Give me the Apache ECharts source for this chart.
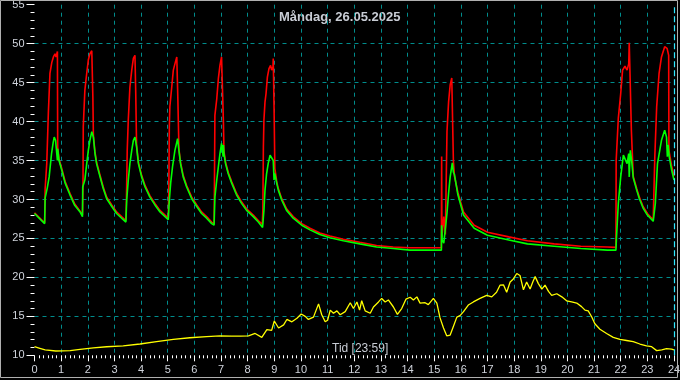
<!DOCTYPE html>
<html><head><meta charset="utf-8">
<script src="https://cdn.jsdelivr.net/npm/echarts@6/dist/echarts.min.js"></script>
<style>html,body{margin:0;padding:0;background:#000;}#c{width:680px;height:380px;}</style>
</head><body><div id="c"></div>
<script>
const titleText = 'Måndag, 26.05.2025';
const xName = 'Tid [23:59]';
const yName = '°C';

// [hour, °C]
const red = [
[0,28.3],[0.38,27.0],[0.40,31.4],[0.46,34.6],[0.52,41.1],[0.58,46.2],[0.65,47.6],[0.71,48.3],[0.77,48.7],[0.81,48.3],[0.84,48.4],[0.86,49.0],[0.87,36.7],[0.92,35.2],[1.02,34.0],[1.15,32.3],[1.33,30.8],[1.5,29.5],[1.71,28.5],[1.80,28.0],
[1.82,31.6],[1.83,39.3],[1.89,44.0],[1.96,46.2],[2.02,47.9],[2.08,48.7],[2.15,49.1],[2.18,49.1],[2.19,43.2],[2.21,38.2],[2.27,36.1],[2.33,34.8],[2.46,33.1],[2.58,31.6],[2.71,30.3],[2.90,29.3],[3.08,28.4],[3.27,27.8],[3.43,27.3],
[3.45,29.9],[3.48,36.3],[3.52,40.2],[3.58,44.4],[3.65,46.6],[3.71,48.1],[3.77,48.5],[3.79,48.5],[3.80,43.6],[3.83,37.0],[3.90,34.8],[4.02,33.1],[4.15,31.8],[4.33,30.5],[4.52,29.5],[4.71,28.6],[4.90,28.0],[5.02,27.6],
[5.04,31.0],[5.06,39.3],[5.08,41.9],[5.15,44.4],[5.21,46.6],[5.27,47.4],[5.34,48.3],[5.37,48.3],[5.38,42.9],[5.42,36.5],[5.48,34.8],[5.58,33.1],[5.71,31.8],[5.90,30.3],[6.09,29.3],[6.27,28.4],[6.46,27.8],[6.65,27.1],[6.74,26.9],
[6.75,30.3],[6.77,40.8],[6.84,42.9],[6.90,45.5],[6.96,47.2],[7.02,48.3],[7.06,48.1],[7.08,48.1],[7.09,39.9],[7.11,36.2],[7.17,34.8],[7.27,33.5],[7.40,32.3],[7.58,30.8],[7.77,29.7],[7.96,28.8],[8.21,28.0],[8.40,27.3],[8.55,26.8],
[8.57,28.8],[8.59,36.8],[8.61,40.2],[8.65,42.5],[8.69,43.6],[8.74,45.7],[8.80,46.8],[8.86,47.2],[8.90,46.6],[8.95,47.0],[8.96,48.1],[8.98,48.0],[8.99,41.9],[9.02,34.0],[9.05,33.3],[9.09,32.3],[9.15,31.4],[9.28,30.1],[9.46,28.8],[9.71,27.8],[10.03,26.9],[10.34,26.3],[10.71,25.7],[11.09,25.3],[11.59,24.9],[12.21,24.5],[12.84,24.1],[13.46,23.9],[14.09,23.8],[15.27,23.8],
[15.28,35.5],[15.29,25.2],[15.36,27.8],[15.42,25.5],[15.48,38.7],[15.54,42.5],[15.60,44.7],[15.66,45.6],[15.70,45.6],[15.72,35.0],[15.76,33.0],[15.89,30.9],[16.1,28.4],[16.5,26.7],[17.0,25.8],[17.8,25.2],[18.5,24.7],[19.5,24.3],[20.5,24.0],[21.5,23.9],[21.82,23.85],
[21.83,35.0],[21.91,40.4],[22.0,43.6],[22.07,46.6],[22.16,47.1],[22.24,46.6],[22.30,47.4],[22.32,50.1],[22.34,47.4],[22.37,47.4],[22.40,38.9],[22.47,33.0],[22.6,31.4],[22.7,30.3],[22.84,29.1],[23.0,28.2],[23.22,27.4],
[23.28,35.5],[23.35,41.9],[23.44,46.2],[23.53,48.3],[23.65,49.6],[23.74,49.4],[23.80,48.5],[23.81,36.3],[23.91,34.3],[24,33.0]
];
const green = [
[0,28.2],[0.38,26.9],[0.40,30.2],[0.48,31.5],[0.55,32.9],[0.64,35.9],[0.70,37.3],[0.74,38.0],[0.79,37.6],[0.83,37.4],[0.86,35.0],[0.87,36.5],[0.92,35.0],[1.02,33.8],[1.15,32.1],[1.33,30.6],[1.5,29.3],[1.71,28.4],[1.80,27.8],
[1.81,31.6],[1.89,32.5],[1.96,34.6],[2.02,36.3],[2.08,37.6],[2.15,38.7],[2.18,38.9],[2.21,38.0],[2.27,35.9],[2.33,34.6],[2.46,32.9],[2.58,31.4],[2.71,30.1],[2.90,29.1],[3.08,28.2],[3.27,27.6],[3.43,27.1],
[3.46,29.9],[3.52,32.5],[3.58,34.6],[3.65,36.3],[3.71,37.6],[3.77,38.0],[3.83,36.8],[3.90,34.6],[4.02,32.9],[4.15,31.6],[4.33,30.3],[4.52,29.3],[4.71,28.4],[4.90,27.8],[5.02,27.4],
[5.06,29.9],[5.11,32.1],[5.18,34.2],[5.27,36.3],[5.37,37.8],[5.42,36.3],[5.48,34.6],[5.58,32.9],[5.71,31.6],[5.90,30.1],[6.09,29.1],[6.27,28.2],[6.46,27.6],[6.65,26.9],[6.74,26.7],
[6.77,30.3],[6.84,32.5],[6.90,34.2],[6.96,35.9],[7.02,37.2],[7.06,37.4],[7.08,35.5],[7.09,37.0],[7.11,35.9],[7.17,34.6],[7.27,33.3],[7.40,32.1],[7.58,30.6],[7.77,29.5],[7.96,28.6],[8.21,27.8],[8.40,27.1],[8.56,26.4],
[8.61,28.6],[8.65,31.2],[8.71,33.3],[8.77,34.6],[8.84,35.7],[8.90,35.7],[8.96,35.0],[8.99,32.5],[9.02,33.3],[9.09,32.1],[9.15,31.2],[9.28,29.9],[9.46,28.6],[9.71,27.6],[10.03,26.7],[10.34,26.1],[10.71,25.5],[11.09,25.1],[11.59,24.7],[12.21,24.3],[12.84,23.9],[13.46,23.7],[14.09,23.5],[15.27,23.5],
[15.28,26.7],[15.30,24.8],[15.36,24.4],[15.42,24.4],[15.48,28.2],[15.54,30.8],[15.60,32.9],[15.68,34.7],[15.72,33.5],[15.76,33.2],[15.89,30.6],[16.1,28.0],[16.5,26.3],[17.0,25.4],[17.8,24.8],[18.5,24.3],[19.5,24.0],[20.5,23.7],[21.5,23.5],[21.82,23.5],
[21.84,25.0],[21.91,29.5],[22.0,32.9],[22.1,35.7],[22.16,35.5],[22.24,34.6],[22.30,35.9],[22.32,32.9],[22.36,36.3],[22.41,35.0],[22.47,32.8],[22.6,31.2],[22.7,30.1],[22.84,28.9],[23.0,28.0],[23.22,27.2],
[23.30,29.5],[23.38,34.6],[23.53,37.6],[23.65,38.9],[23.72,38.0],[23.75,35.5],[23.78,37.0],[23.82,35.5],[23.91,33.8],[24,32.5]
];
const yellow = [
[0,11.1],[0.2,10.9],[0.4,10.7],[0.8,10.55],[1.34,10.6],[1.71,10.75],[2.21,10.95],[2.71,11.1],[3.33,11.2],[3.96,11.45],[4.58,11.75],[5.21,12.05],[5.83,12.25],[6.46,12.4],[6.96,12.5],[7.4,12.45],[7.72,12.45],[8.03,12.5],[8.28,12.8],[8.53,12.3],[8.72,13.3],[8.9,13.2],[9.0,14.4],[9.16,13.5],[9.35,13.9],[9.47,14.6],[9.66,14.3],[9.85,14.75],[10.01,15.3],[10.16,15.0],[10.28,14.6],[10.47,14.9],[10.66,16.6],[10.78,15.2],[10.91,14.3],[11.0,14.5],[11.1,15.8],[11.22,15.4],[11.35,15.7],[11.47,15.2],[11.66,15.6],[11.85,16.75],[11.97,16.0],[12.1,16.85],[12.2,15.8],[12.28,17.0],[12.41,15.7],[12.6,15.4],[12.72,16.2],[12.91,16.85],[13.03,17.3],[13.16,16.85],[13.28,17.1],[13.47,16.2],[13.62,15.25],[13.78,16.0],[13.94,17.2],[14.1,17.45],[14.22,17.1],[14.35,17.5],[14.47,16.7],[14.66,16.75],[14.78,16.5],[14.97,17.3],[15.1,16.7],[15.22,14.8],[15.35,13.5],[15.47,12.5],[15.6,12.6],[15.72,13.7],[15.85,14.9],[15.97,15.1],[16.1,15.6],[16.28,16.45],[16.47,16.85],[16.72,17.3],[16.97,17.7],[17.16,17.5],[17.34,18.1],[17.47,19.0],[17.6,19.05],[17.72,18.1],[17.85,19.4],[17.97,19.8],[18.1,20.5],[18.22,20.25],[18.35,18.4],[18.47,19.4],[18.6,18.5],[18.7,19.4],[18.79,20.1],[18.91,19.2],[19.04,18.5],[19.16,19.0],[19.29,18.2],[19.41,17.7],[19.6,17.9],[19.79,17.5],[19.97,17.0],[20.16,16.85],[20.35,16.7],[20.53,16.25],[20.66,15.8],[20.78,15.7],[20.91,14.95],[21.03,14.05],[21.22,13.35],[21.47,12.8],[21.72,12.3],[21.97,12.05],[22.22,11.9],[22.47,11.75],[22.72,11.45],[22.97,11.2],[23.16,11.1],[23.35,10.6],[23.54,10.7],[23.72,10.85],[23.91,10.8],[24,10.7]
];

const FONT = 'Liberation Sans, Arial, sans-serif';
const TXT = '#d0d4dc';
const GRIDC = '#008c8c';
const TICKC = '#ffffff';

const chart = echarts.init(document.getElementById('c'));
chart.setOption({
  backgroundColor: '#000',
  animation: false,
  grid: {left: 34.5, right: 6, top: 4.7, bottom: 24.7, outerBoundsMode: 'none'},
  xAxis: {
    type: 'value', min: 0, max: 24, interval: 1,
    axisLine: {show: true, lineStyle: {color: '#000', width: 0.1}},
    axisTick: {show: true, length: 6, lineStyle: {color: TICKC}},
    minorTick: {show: true, splitNumber: 6, length: 3, lineStyle: {color: TICKC}},
    axisLabel: {color: TXT, fontFamily: FONT, fontSize: 11, margin: 9},
    splitLine: {show: true, showMinLine: false, showMaxLine: false, lineStyle: {color: GRIDC, type: [4,4], width: 1}}
  },
  yAxis: {
    type: 'value', min: 10, max: 55, interval: 5,
    name: yName, nameLocation: 'middle', nameGap: 21,
    nameTextStyle: {color: TXT, fontFamily: FONT, fontSize: 12, fontWeight: 'bold'},
    axisLine: {show: true, lineStyle: {color: '#000', width: 0.1}},
    axisTick: {show: true, length: 8, lineStyle: {color: TICKC}},
    minorTick: {show: true, splitNumber: 5, length: 4, lineStyle: {color: TICKC}},
    axisLabel: {color: TXT, fontFamily: FONT, fontSize: 11, margin: 10},
    splitLine: {show: true, showMinLine: false, showMaxLine: false, lineStyle: {color: GRIDC, type: [4,4], width: 1}}
  },
  series: [
    {type: 'line', data: yellow, showSymbol: false, symbol: 'none', lineStyle: {color: '#ffff00', width: 1.3}, z: 2,
     markLine: {silent: true, symbol: 'none', label: {show: false}, lineStyle: {color: '#30e8ff', type: [6,3], width: 1.2}, data: [{xAxis: 24}]}},
    {type: 'line', data: red, showSymbol: false, symbol: 'none', lineStyle: {color: '#ff0000', width: 1.6}, z: 3},
    {type: 'line', data: green, showSymbol: false, symbol: 'none', lineStyle: {color: '#00ff00', width: 1.6}, z: 4}
  ],
  graphic: [
    {type: 'text', left: 340 - 61, top: 11, style: {text: titleText, fill: '#c8ccd4', font: 'bold 13px ' + FONT}},
    {type: 'text', left: 332, top: 343, style: {text: xName, fill: '#c8ccd4', font: '12px ' + FONT}},
    {type: 'rect', shape: {x: 0.5, y: 0.5, width: 677, height: 377}, style: {fill: 'none', stroke: '#b0b0b0', lineWidth: 1}, z: 100}
  ]
});
</script></body></html>
